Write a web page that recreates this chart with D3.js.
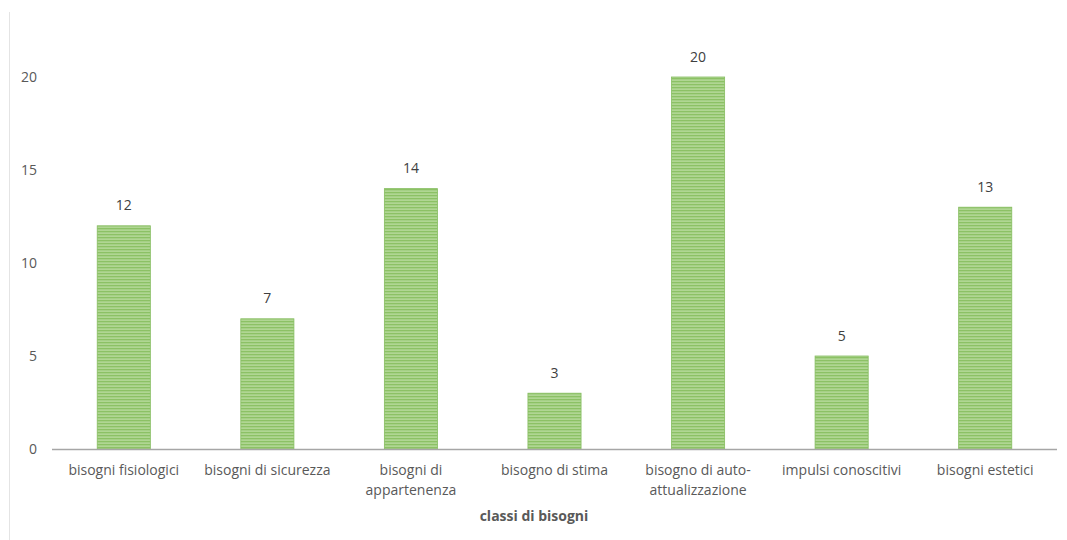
<!DOCTYPE html>
<html>
<head>
<meta charset="utf-8">
<script src="https://cdn.jsdelivr.net/npm/d3@7"></script>
<style>
  body { margin: 0; background: #fff; }
  svg { display: block; font-family: "Open Sans", Lato, sans-serif; }
</style>
</head>
<body>
<svg id="chart" width="1067" height="540"></svg>
<script>
const categories = [
  ["bisogni fisiologici"],
  ["bisogni di sicurezza"],
  ["bisogni di", "appartenenza"],
  ["bisogno di stima"],
  ["bisogno di auto-", "attualizzazione"],
  ["impulsi conoscitivi"],
  ["bisogni estetici"]
];
const values = [12, 7, 14, 3, 20, 5, 13];
const yTicks = [0, 5, 10, 15, 20];
const axisTitle = "classi di bisogni";

const svg = d3.select("#chart");
const height = 540;
const left = 52, right = 1057;
const fs = 14;

const x = d3.scaleBand()
  .domain(d3.range(values.length))
  .range([left, right])
  .paddingInner(0.63)
  .paddingOuter(0.315);

const y = d3.scaleLinear()
  .domain([0, 20])
  .range([449, 77]);

// horizontal stripe fill like the original
const defs = svg.append("defs");
const pat = defs.append("pattern")
  .attr("id", "stripes")
  .attr("patternUnits", "userSpaceOnUse")
  .attr("width", 6).attr("height", 3);
pat.append("rect").attr("width", 6).attr("height", 3).attr("fill", "#8cc165");
pat.append("rect").attr("y", 1.5).attr("width", 6).attr("height", 1.2).attr("fill", "#bfdfa7");

// frame edge on the left
svg.append("line")
  .attr("x1", 9.5).attr("x2", 9.5)
  .attr("y1", 12).attr("y2", height)
  .attr("stroke", "#e4e4e4").attr("stroke-width", 1);

// y tick labels
svg.append("g")
  .selectAll("text")
  .data(yTicks)
  .join("text")
  .attr("x", 37)
  .attr("y", d => y(d))
  .attr("dy", "0.35em")
  .attr("text-anchor", "end")
  .attr("font-size", fs)
  .attr("fill", "#595959")
  .text(d => d);

// bars
svg.append("g")
  .selectAll("rect")
  .data(values)
  .join("rect")
  .attr("x", (d, i) => x(i))
  .attr("y", d => y(d))
  .attr("width", x.bandwidth())
  .attr("height", d => y(0) - y(d))
  .attr("fill", "url(#stripes)")
  .attr("stroke", "#86bd60")
  .attr("stroke-width", 0.8);

// baseline
svg.append("line")
  .attr("x1", left).attr("x2", right)
  .attr("y1", y(0) + 0.5).attr("y2", y(0) + 0.5)
  .attr("stroke", "#a6a6a6").attr("stroke-width", 1.5);

// value labels
svg.append("g")
  .selectAll("text")
  .data(values)
  .join("text")
  .attr("x", (d, i) => x(i) + x.bandwidth() / 2)
  .attr("y", d => y(d) - 14)
  .attr("dy", "-0.1em")
  .attr("text-anchor", "middle")
  .attr("font-size", fs)
  .attr("fill", "#404040")
  .text(d => d);

// category labels
const catG = svg.append("g")
  .selectAll("text")
  .data(categories)
  .join("text")
  .attr("x", (d, i) => x(i) + x.bandwidth() / 2)
  .attr("y", 470)
  .attr("text-anchor", "middle")
  .attr("font-size", fs)
  .attr("fill", "#595959");
catG.selectAll("tspan")
  .data(d => d)
  .join("tspan")
  .attr("x", function () { return d3.select(this.parentNode).attr("x"); })
  .attr("dy", (d, i) => i === 0 ? "0.35em" : "1.45em")
  .text(d => d);

// axis title
svg.append("text")
  .attr("x", 534)
  .attr("y", 516)
  .attr("dy", "0.35em")
  .attr("text-anchor", "middle")
  .attr("font-size", fs)
  .attr("font-weight", "bold")
  .attr("fill", "#595959")
  .text(axisTitle);
</script>
</body>
</html>
